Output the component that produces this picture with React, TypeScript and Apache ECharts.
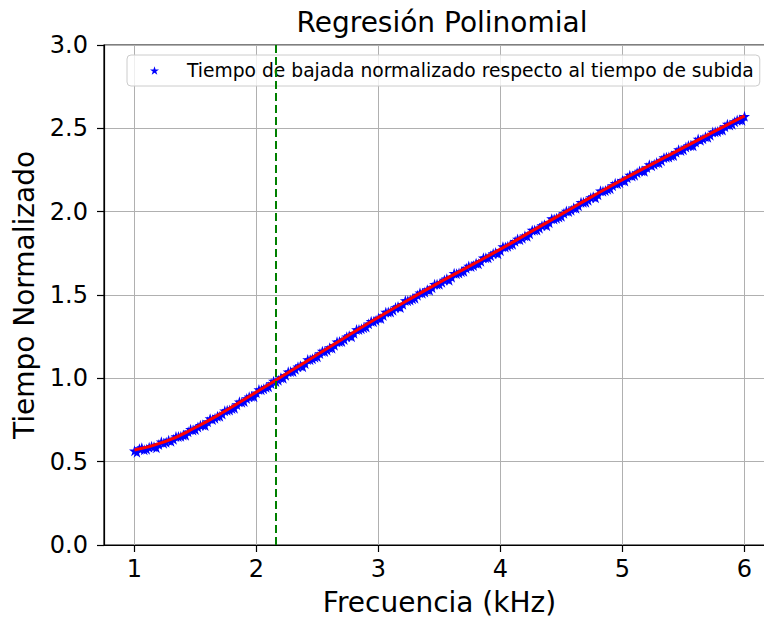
import React, { useEffect, useRef } from "react";
import * as echarts from "echarts";

const titleText = "Regresión Polinomial";
const xAxisName = "Frecuencia (kHz)";
const yAxisName = "Tiempo Normalizado";
const legendName = "Tiempo de bajada normalizado respecto al tiempo de subida";

const xTicks = [1, 2, 3, 4, 5, 6];
const yTicks = [0, 0.5, 1.0, 1.5, 2.0, 2.5, 3.0];
const cutoffFreq = 2.16;

// measured points, sweep A (kHz)
const measFreqA = [
  1.00, 1.04, 1.08, 1.12, 1.16, 1.20, 1.24, 1.28, 1.32, 1.36, 1.40, 1.44, 1.48, 1.52, 1.56, 1.60,
  1.64, 1.68, 1.72, 1.76, 1.80, 1.84, 1.88, 1.92, 1.96, 2.00, 2.04, 2.08, 2.12, 2.16, 2.20, 2.24,
  2.28, 2.32, 2.36, 2.40, 2.44, 2.48, 2.52, 2.56, 2.60, 2.64, 2.68, 2.72, 2.76, 2.80, 2.84, 2.88,
  2.92, 2.96, 3.00, 3.04, 3.08, 3.12, 3.16, 3.20, 3.24, 3.28, 3.32, 3.36, 3.40, 3.44, 3.48, 3.52,
  3.56, 3.60, 3.64, 3.68, 3.72, 3.76, 3.80, 3.84, 3.88, 3.92, 3.96, 4.00, 4.04, 4.08, 4.12, 4.16,
  4.20, 4.24, 4.28, 4.32, 4.36, 4.40, 4.44, 4.48, 4.52, 4.56, 4.60, 4.64, 4.68, 4.72, 4.76, 4.80,
  4.84, 4.88, 4.92, 4.96, 5.00, 5.04, 5.08, 5.12, 5.16, 5.20, 5.24, 5.28, 5.32, 5.36, 5.40, 5.44,
  5.48, 5.52, 5.56, 5.60, 5.64, 5.68, 5.72, 5.76, 5.80, 5.84, 5.88, 5.92, 5.96, 6.00,
];
const measTimeA = [
  0.565, 0.578, 0.572, 0.586, 0.590, 0.603, 0.611, 0.629, 0.634, 0.651, 0.660, 0.679, 0.690, 0.708, 0.721, 0.740,
  0.753, 0.772, 0.786, 0.808, 0.819, 0.842, 0.857, 0.879, 0.892, 0.913, 0.931, 0.946, 0.969, 0.981, 1.004, 1.018,
  1.041, 1.054, 1.076, 1.089, 1.112, 1.127, 1.149, 1.161, 1.184, 1.198, 1.221, 1.233, 1.256, 1.270, 1.293, 1.304,
  1.327, 1.340, 1.362, 1.377, 1.398, 1.409, 1.431, 1.444, 1.466, 1.477, 1.499, 1.511, 1.532, 1.544, 1.565, 1.576,
  1.597, 1.607, 1.628, 1.640, 1.661, 1.671, 1.691, 1.702, 1.724, 1.735, 1.755, 1.766, 1.788, 1.801, 1.822, 1.832,
  1.855, 1.867, 1.890, 1.901, 1.922, 1.934, 1.956, 1.968, 1.990, 2.001, 2.023, 2.035, 2.056, 2.068, 2.090, 2.101,
  2.123, 2.134, 2.156, 2.167, 2.188, 2.203, 2.214, 2.234, 2.245, 2.265, 2.275, 2.295, 2.306, 2.327, 2.336, 2.356,
  2.367, 2.388, 2.397, 2.418, 2.428, 2.449, 2.459, 2.479, 2.490, 2.510, 2.520, 2.540, 2.552, 2.572,
];

// measured points, sweep B (kHz)
const measFreqB = [
  1.02, 1.06, 1.10, 1.14, 1.18, 1.22, 1.26, 1.30, 1.34, 1.38, 1.42, 1.46, 1.50, 1.54, 1.58, 1.62,
  1.66, 1.70, 1.74, 1.78, 1.82, 1.86, 1.90, 1.94, 1.98, 2.02, 2.06, 2.10, 2.14, 2.18, 2.22, 2.26,
  2.30, 2.34, 2.38, 2.42, 2.46, 2.50, 2.54, 2.58, 2.62, 2.66, 2.70, 2.74, 2.78, 2.82, 2.86, 2.90,
  2.94, 2.98, 3.02, 3.06, 3.10, 3.14, 3.18, 3.22, 3.26, 3.30, 3.34, 3.38, 3.42, 3.46, 3.50, 3.54,
  3.58, 3.62, 3.66, 3.70, 3.74, 3.78, 3.82, 3.86, 3.90, 3.94, 3.98, 4.02, 4.06, 4.10, 4.14, 4.18,
  4.22, 4.26, 4.30, 4.34, 4.38, 4.42, 4.46, 4.50, 4.54, 4.58, 4.62, 4.66, 4.70, 4.74, 4.78, 4.82,
  4.86, 4.90, 4.94, 4.98, 5.02, 5.06, 5.10, 5.14, 5.18, 5.22, 5.26, 5.30, 5.34, 5.38, 5.42, 5.46,
  5.50, 5.54, 5.58, 5.62, 5.66, 5.70, 5.74, 5.78, 5.82, 5.86, 5.90, 5.94, 5.98,
];
const measTimeB = [
  0.557, 0.584, 0.575, 0.592, 0.584, 0.619, 0.616, 0.622, 0.651, 0.652, 0.659, 0.694, 0.693, 0.718, 0.717, 0.758,
  0.761, 0.772, 0.805, 0.810, 0.821, 0.859, 0.861, 0.889, 0.890, 0.933, 0.937, 0.949, 0.983, 0.989, 1.001, 1.039,
  1.041, 1.069, 1.070, 1.113, 1.117, 1.129, 1.163, 1.169, 1.181, 1.219, 1.221, 1.249, 1.250, 1.293, 1.297, 1.308,
  1.342, 1.348, 1.359, 1.397, 1.398, 1.425, 1.425, 1.467, 1.470, 1.481, 1.513, 1.518, 1.528, 1.564, 1.564, 1.590,
  1.589, 1.630, 1.632, 1.642, 1.674, 1.677, 1.687, 1.723, 1.723, 1.749, 1.748, 1.790, 1.793, 1.804, 1.836, 1.841,
  1.852, 1.889, 1.890, 1.916, 1.916, 1.958, 1.961, 1.972, 2.004, 2.009, 2.020, 2.056, 2.057, 2.084, 2.083, 2.125,
  2.127, 2.138, 2.170, 2.174, 2.184, 2.219, 2.219, 2.244, 2.242, 2.282, 2.284, 2.293, 2.324, 2.328, 2.337, 2.372,
  2.372, 2.397, 2.395, 2.436, 2.437, 2.446, 2.478, 2.481, 2.490, 2.525, 2.525, 2.550, 2.548,
];

// polynomial fit curve
const fitFreq = [1.0, 1.25, 1.5, 1.75, 2.0, 2.25, 2.5, 2.75, 3.0, 3.25, 3.5, 3.75, 4.0, 4.25, 4.5, 4.75, 5.0, 5.25, 5.5, 5.75, 6.0];
const fitTime = [0.570, 0.620, 0.705, 0.807, 0.918, 1.030, 1.143, 1.256, 1.366, 1.473, 1.576, 1.675, 1.775, 1.880, 1.985, 2.090, 2.192, 2.288, 2.384, 2.480, 2.575];

const STAR =
  "path://M0,-1L0.224,-0.308L0.951,-0.309L0.362,0.118L0.588,0.809L0,0.381L-0.588,0.809L-0.362,0.118L-0.951,-0.309L-0.224,-0.308Z";

const FONT = "DejaVu Sans";

export default function App() {
  const ref = useRef<HTMLDivElement>(null);
  useEffect(() => {
    if (!ref.current) return;
    const chart = echarts.init(ref.current, null, { renderer: "svg" });
    const scatterData = measFreqA
      .map((f, i) => [f, measTimeA[i]])
      .concat(measFreqB.map((f, i) => [f, measTimeB[i]]));
    const fitData = fitFreq.map((f, i) => [f, fitTime[i]]);
    chart.setOption({
      animation: false,
      textStyle: { fontFamily: FONT },
      title: {
        text: titleText,
        left: 437,
        textAlign: "center",
        top: 3,
        textStyle: { fontFamily: FONT, fontSize: 28, fontWeight: "normal", color: "#000" },
      },
      grid: {
        left: 104,
        top: 45,
        width: 671,
        height: 500,
        outerBoundsMode: "none",
        containLabel: false,
        show: true,
        borderColor: "#000",
        borderWidth: 1.2,
        backgroundColor: "transparent",
      },
      legend: {
        left: 127,
        top: 55,
        data: [{ name: legendName, icon: STAR }],
        itemWidth: 9,
        itemHeight: 9,
        padding: [6, 6, 6, 23],
        backgroundColor: "rgba(255,255,255,0.8)",
        borderColor: "#cccccc",
        borderWidth: 1,
        borderRadius: 4,
        textStyle: { fontFamily: FONT, fontSize: 18.7, color: "#000", padding: [0, 0, 0, 23] },
      },
      xAxis: {
        type: "value",
        min: 0.75,
        max: 6.25,
        name: xAxisName,
        nameLocation: "middle",
        nameGap: 43,
        nameTextStyle: { fontFamily: FONT, fontSize: 28, color: "#000" },
        axisLine: { show: true, lineStyle: { color: "#000", width: 1.2 } },
        axisTick: { show: true, length: 7, lineStyle: { color: "#000", width: 1.2 }, customValues: xTicks },
        axisLabel: {
          customValues: xTicks,
          margin: 12,
          fontFamily: FONT,
          fontSize: 24,
          color: "#000",
          formatter: (v: number) => String(v),
        },
        splitLine: { show: true, customValues: xTicks, lineStyle: { color: "#b0b0b0", width: 1 } },
      },
      yAxis: {
        type: "value",
        min: 0,
        max: 3,
        interval: 0.5,
        name: yAxisName,
        nameLocation: "middle",
        nameGap: 61,
        nameTextStyle: { fontFamily: FONT, fontSize: 28, color: "#000" },
        axisLine: { show: true, lineStyle: { color: "#000", width: 1.2 } },
        axisTick: { show: true, length: 7, lineStyle: { color: "#000", width: 1.2 } },
        axisLabel: {
          margin: 16,
          fontFamily: FONT,
          fontSize: 24,
          color: "#000",
          formatter: (v: number) => v.toFixed(1),
        },
        splitLine: { show: true, lineStyle: { color: "#b0b0b0", width: 1 } },
      },
      series: [
        {
          name: legendName,
          type: "scatter",
          data: scatterData,
          symbol: STAR,
          symbolSize: 11,
          itemStyle: { color: "#0000ff", opacity: 1 },
          z: 3,
        },
        {
          name: "fit",
          type: "line",
          data: fitData,
          smooth: true,
          showSymbol: false,
          symbol: "none",
          lineStyle: { color: "#ff0000", width: 3 },
          z: 4,
        },
        {
          name: "cutoff",
          type: "line",
          data: [],
          markLine: {
            silent: true,
            symbol: "none",
            label: { show: false },
            lineStyle: { color: "#008000", width: 2, type: [8, 4] },
            data: [{ xAxis: cutoffFreq }],
          },
          z: 2,
        },
      ],
    });
    return () => chart.dispose();
  }, []);
  return (
    <div
      style={{ position: "absolute", left: 0, top: 0, width: 764, height: 619, overflow: "hidden" }}
    >
      <div ref={ref} style={{ width: 800, height: 619 }} />
    </div>
  );
}
